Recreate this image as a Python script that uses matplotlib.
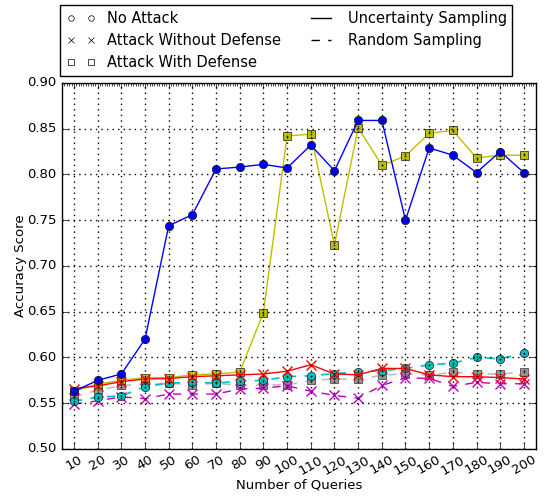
import matplotlib
matplotlib.use("Agg")
import matplotlib.pyplot as plt
from matplotlib.lines import Line2D
from matplotlib.ticker import MultipleLocator

plt.style.use("classic")

queries = [10, 20, 30, 40, 50, 60, 70, 80, 90, 100,
           110, 120, 130, 140, 150, 160, 170, 180, 190, 200]
tick_labels = [str(q) for q in queries]

unc_no_attack = [0.563, 0.575, 0.582, 0.620, 0.744, 0.756, 0.806, 0.808, 0.811, 0.807,
                 0.832, 0.804, 0.859, 0.859, 0.750, 0.829, 0.821, 0.802, 0.825, 0.802]
unc_attack = [0.566, 0.569, 0.5735, 0.5765, 0.577, 0.579, 0.580, 0.581, 0.582, 0.585,
              0.592, 0.582, 0.581, 0.588, 0.588, 0.581, 0.579, 0.579, 0.578, 0.5765]
unc_defense = [0.563, 0.571, 0.575, 0.578, 0.578, 0.581, 0.582, 0.584, 0.649, 0.842,
               0.844, 0.723, 0.851, 0.810, 0.820, 0.845, 0.848, 0.818, 0.821, 0.821]
rnd_no_attack = [0.552, 0.5566, 0.558, 0.568, 0.572, 0.573, 0.572, 0.574, 0.575, 0.579,
                 0.580, 0.5824, 0.584, 0.5857, 0.588, 0.592, 0.5937, 0.600, 0.5985, 0.6048]
rnd_attack = [0.549, 0.5526, 0.557, 0.555, 0.560, 0.560, 0.560, 0.5655, 0.5665, 0.569,
              0.5632, 0.5585, 0.5555, 0.5695, 0.5776, 0.5772, 0.5684, 0.5728, 0.5713, 0.5713]
rnd_defense = [0.5574, 0.564, 0.5695, 0.5706, 0.572, 0.570, 0.5717, 0.5695, 0.570, 0.570,
               0.575, 0.5765, 0.576, 0.5805, 0.5824, 0.5805, 0.584, 0.582, 0.582, 0.584]

fig = plt.figure(figsize=(5.45, 4.97), dpi=100, facecolor="white")
ax = fig.add_axes([0.114, 0.0966, 0.869, 0.7366])
ax.set_facecolor("white")

ax.plot(queries, rnd_defense, color="0.75", ls="--", marker="s", mfc="0.58", mec="0.2", ms=6, lw=1.2)
ax.plot(queries, rnd_attack, color="m", ls="--", marker="x", mec="m", ms=6.5, mew=1, lw=1.0)
ax.plot(queries, rnd_no_attack, color="c", ls="--", marker="o", mfc="c", mec="0.1", ms=6, lw=1.2)
ax.plot(queries, unc_defense, color="y", ls="-", marker="s", mfc="y", mec="0.1", ms=6, lw=1.0)
ax.plot(queries, unc_attack, color="r", ls="-", marker="x", mec="r", ms=6.5, mew=1, lw=1.0)
ax.plot(queries, unc_no_attack, color="b", ls="-", marker="o", mfc="b", mec="0.1", ms=6, lw=1.0)

for s in (rnd_defense, unc_defense, rnd_no_attack):
    ax.plot(queries, s, ls="none", marker=".", color="0.1", ms=1.5)

ax.set_xlim(5, 205)
ax.set_ylim(0.50, 0.90)
ax.set_xticks(queries)
ax.set_xticklabels(tick_labels, rotation=30, fontsize=9.5)
ax.set_yticks([0.50, 0.55, 0.60, 0.65, 0.70, 0.75, 0.80, 0.85, 0.90])
ax.set_yticklabels(["0.50", "0.55", "0.60", "0.65", "0.70", "0.75", "0.80", "0.85", "0.90"], fontsize=9.5)
ax.xaxis.set_minor_locator(MultipleLocator(1))
ax.tick_params(axis="x", which="minor", bottom=False, top=True, length=2)
ax.tick_params(axis="both", which="major", direction="in", length=4)
ax.tick_params(axis="x", which="major", pad=3)
ax.grid(True, which="major", color="k", linestyle=":", linewidth=1.0)
ax.set_xlabel("Number of Queries", fontsize=9.5, labelpad=1)
ax.set_ylabel("Accuracy Score", fontsize=9.5, labelpad=0)

handles = [
    Line2D([], [], ls="none", marker="o", mfc="white", mec="k", ms=4),
    Line2D([], [], ls="none", marker="x", color="k", ms=4),
    Line2D([], [], ls="none", marker="s", mfc="white", mec="k", ms=4),
    Line2D([], [], ls="-", color="k", lw=1.0),
    Line2D([], [], ls="--", color="k", lw=1.0),
]
labels = ["No Attack", "Attack Without Defense", "Attack With Defense",
          "Uncertainty Sampling", "Random Sampling"]
leg = fig.legend(handles, labels, ncol=2, numpoints=2, loc="upper left",
                 bbox_to_anchor=(0.111, 0.99), bbox_transform=fig.transFigure,
                 fontsize=10.5, frameon=True, fancybox=False, borderaxespad=0,
                 handlelength=2.0, labelspacing=0.5, columnspacing=1.75,
                 borderpad=0.4)
leg.get_frame().set_edgecolor("k")

fig.savefig("out.png", dpi=100, facecolor="white")
